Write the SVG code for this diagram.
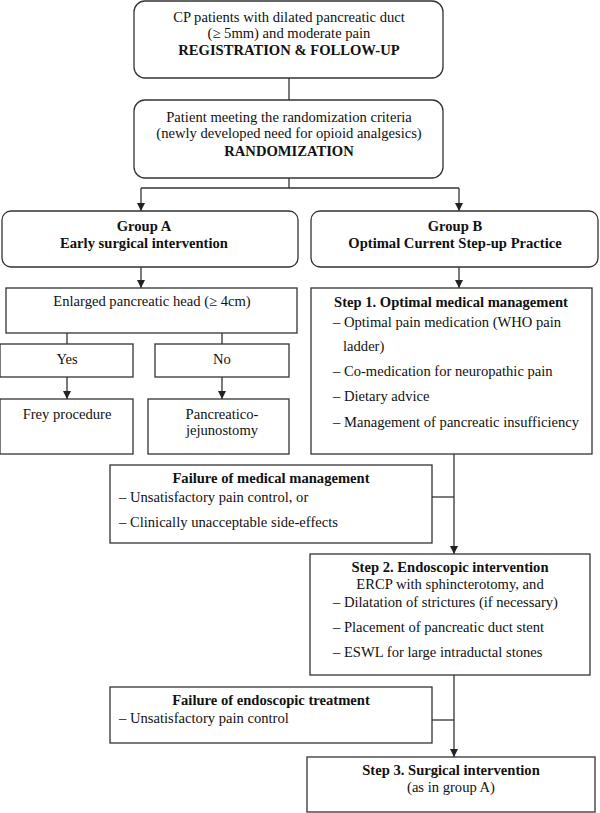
<svg xmlns="http://www.w3.org/2000/svg" width="600" height="813" viewBox="0 0 600 813">
<style>
rect{fill:#fff;stroke:#333;stroke-width:1.3}
text{font-family:"Liberation Serif","Times New Roman",serif;font-size:14.6px;fill:#111}
.c{text-anchor:middle}
.b{font-weight:bold}
.cn path{fill:none;stroke:#333;stroke-width:1.3}
</style>
<defs>
<marker id="ah" markerUnits="userSpaceOnUse" markerWidth="10" markerHeight="10" refX="4" refY="8" orient="auto-start-reverse" viewBox="0 0 8 8">
<path d="M0,0 L8,0 L4,8 Z" fill="#222" transform="rotate(0)"/>
</marker>
<marker id="arr" markerUnits="userSpaceOnUse" markerWidth="8" markerHeight="9" refX="8" refY="4" orient="auto" viewBox="0 0 8 8">
<path d="M0,0 L8,4 L0,8 Z" fill="#222"/>
</marker>
</defs>
<rect x="0" y="0" width="600" height="813" style="fill:#fff;stroke:none"/>
<g class="cn" id="connectors">
<path d="M289,78 V100"/>
<path d="M289,178 V188 M141,188 H459"/>
<path d="M141,188 V211" marker-end="url(#arr)"/>
<path d="M459,188 V211" marker-end="url(#arr)"/>
<path d="M141,267 V288" marker-end="url(#arr)"/>
<path d="M459,267 V288" marker-end="url(#arr)"/>
<path d="M67,333 V344 M222,333 V344"/>
<path d="M67,377 V399" marker-end="url(#arr)"/>
<path d="M222,377 V399" marker-end="url(#arr)"/>
<path d="M454,454 V554" marker-end="url(#arr)"/>
<path d="M432,497 H454"/>
<path d="M454,675 V757" marker-end="url(#arr)"/>
<path d="M432,720 H454"/>
</g>
<g id="registration">
<rect x="134" y="1" width="309" height="77" rx="11"/>
<text class="c" x="289" y="22">CP patients with dilated pancreatic duct</text>
<text class="c" x="289" y="38">(≥ 5mm) and moderate pain</text>
<text class="c b" x="289" y="55">REGISTRATION &amp; FOLLOW-UP</text>
</g>
<g id="randomization">
<rect x="134" y="100" width="309" height="78" rx="11"/>
<text class="c" x="289" y="122">Patient meeting the randomization criteria</text>
<text class="c" x="289" y="138">(newly developed need for opioid analgesics)</text>
<text class="c b" x="289" y="156">RANDOMIZATION</text>
</g>
<g id="groupA">
<rect x="2" y="211" width="296" height="56" rx="9"/>
<text class="c b" x="144" y="231">Group A</text>
<text class="c b" x="144" y="248">Early surgical intervention</text>
</g>
<g id="groupB">
<rect x="311" y="211" width="287" height="56" rx="9"/>
<text class="c b" x="455" y="231">Group B</text>
<text class="c b" x="455" y="248">Optimal Current Step-up Practice</text>
</g>
<g id="enlarged">
<rect x="6" y="288" width="291" height="45"/>
<text class="c" x="152" y="306">Enlarged pancreatic head (≥ 4cm)</text>
</g>
<g id="yes">
<rect x="0" y="344" width="133" height="33"/>
<text class="c" x="67" y="364">Yes</text>
</g>
<g id="no">
<rect x="155" y="344" width="134" height="33"/>
<text class="c" x="222" y="364">No</text>
</g>
<g id="frey">
<rect x="0" y="399" width="133" height="55"/>
<text class="c" x="67" y="419">Frey procedure</text>
</g>
<g id="pj">
<rect x="148" y="399" width="141" height="55"/>
<text class="c" x="222" y="419">Pancreatico-</text>
<text class="c" x="222" y="435">jejunostomy</text>
</g>
<g id="step1">
<rect x="311" y="288" width="281" height="166"/>
<text class="c b" x="451" y="307">Step 1. Optimal medical management</text>
<text x="333" y="327">– Optimal pain medication (WHO pain</text>
<text x="343" y="351">ladder)</text>
<text x="333" y="376">– Co-medication for neuropathic pain</text>
<text x="333" y="401">– Dietary advice</text>
<text x="333" y="427">– Management of pancreatic insufficiency</text>
</g>
<g id="failMed">
<rect x="110" y="465" width="322" height="78"/>
<text class="c b" x="271" y="483">Failure of medical management</text>
<text x="119" y="502">– Unsatisfactory pain control, or</text>
<text x="119" y="527">– Clinically unacceptable side-effects</text>
</g>
<g id="step2">
<rect x="310" y="554" width="280" height="121"/>
<text class="c b" x="450" y="572">Step 2. Endoscopic intervention</text>
<text class="c" x="450" y="589">ERCP with sphincterotomy, and</text>
<text x="333" y="607">– Dilatation of strictures (if necessary)</text>
<text x="333" y="632">– Placement of pancreatic duct stent</text>
<text x="333" y="657">– ESWL for large intraductal stones</text>
</g>
<g id="failEndo">
<rect x="110" y="687" width="322" height="56"/>
<text class="c b" x="271" y="705">Failure of endoscopic treatment</text>
<text x="119" y="723">– Unsatisfactory pain control</text>
</g>
<g id="step3">
<rect x="307" y="757" width="288" height="55"/>
<text class="c b" x="451" y="775">Step 3. Surgical intervention</text>
<text class="c" x="451" y="792">(as in group A)</text>
</g>
</svg>
